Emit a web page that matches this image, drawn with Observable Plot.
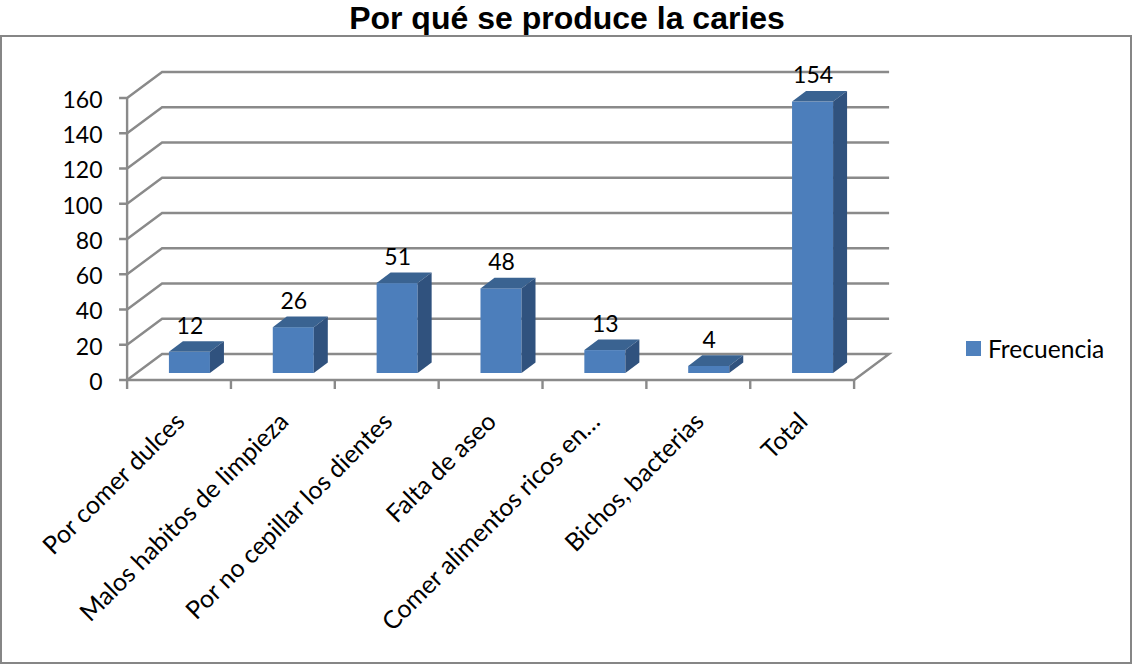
<!DOCTYPE html>
<html lang="es"><head><meta charset="utf-8">
<script src="https://cdn.jsdelivr.net/npm/d3@7"></script>
<script src="https://cdn.jsdelivr.net/npm/@observablehq/plot@0.6"></script>
<style>
html,body{margin:0;padding:0;background:#fff;width:1133px;height:664px;overflow:hidden}
#title{position:absolute;left:0;top:-1px;width:1133px;text-align:center;font:bold 32px "Liberation Sans",Arial,sans-serif;line-height:38px;color:#000;padding-left:1px;box-sizing:border-box}
#frame{position:absolute;left:0;top:35px;width:1132px;height:629px;box-sizing:border-box;border:2px solid #868686}
#chart{position:absolute;left:0;top:36px}
#legend{position:absolute;left:966px;top:334px;display:flex;align-items:center;font:24.6px Lato,sans-serif;color:#000}
#legend i{display:block;width:15px;height:15px;background:#4f81bd;margin-right:7px}
</style></head><body>
<div id="title">Por qué se produce la caries</div>
<div id="frame"></div>
<div id="chart"></div>
<div id="legend"><i></i><span>Frecuencia</span></div>
<script>
const categories = ["Por comer dulces","Malos habitos de limpieza","Por no cepillar los dientes","Falta de aseo","Comer alimentos ricos en…","Bichos, bacterias","Total"];
const frecuencia = [12,26,51,48,13,4,154];
const yTicks = [0,20,40,60,80,100,120,140,160];
const rows = categories.map((c,i)=>({c,v:frecuencia[i]}));

const wallDx=35, wallDy=-26;
const shiftX=10.5, shiftY=-7;
const depthX=14, depthY=-10.6;
const gridColor="#8a8a8a";

function walls(index,{x,y}){
  const g=d3.create("svg:g").attr("fill","none").attr("stroke",gridColor).attr("stroke-width",2.4);
  const left=x(categories[0])-x.bandwidth()*0.7635;
  const step=x(categories[1])-x(categories[0]);
  const right=left+step*categories.length;
  for(const t of yTicks){
    const p=y(t);
    const pts=t===0
      ?[[left,p],[left+wallDx,p+wallDy],[right+wallDx,p+wallDy],[right,p]]
      :[[left-8,p],[left,p],[left+wallDx,p+wallDy],[right+wallDx,p+wallDy]];
    g.append("path").attr("d",d3.line()(pts));
  }
  g.append("path").attr("d",d3.line()([[left-8,y(0)],[right,y(0)]]));
  g.append("path").attr("d",d3.line()([[left,y(160)],[left,y(0)]]));
  for(let i=0;i<=categories.length;i++){
    const tx=left+step*i;
    g.append("path").attr("d",d3.line()([[tx,y(0)],[tx,y(0)+9]]));
  }
  return g.node();
}
function faces(index,{x,y}){
  const g=d3.create("svg:g");
  const w=x.bandwidth();
  for(const r of rows){
    const l=x(r.c)+shiftX, rr=l+w, t=y(r.v)+shiftY, b=y(0)+shiftY;
    g.append("polygon").attr("fill","#3a6391")
      .attr("points",[[l,t],[l+depthX,t+depthY],[rr+depthX,t+depthY],[rr,t]].join(" "));
    g.append("polygon").attr("fill","#30527e")
      .attr("points",[[rr,t],[rr+depthX,t+depthY],[rr+depthX,b+depthY],[rr,b]].join(" "));
  }
  return g.node();
}

const plot=Plot.plot({
  width:1133,height:628,
  marginLeft:127,marginRight:279,marginTop:62,marginBottom:284,
  style:{background:"transparent",color:"#000",fontFamily:"Lato, sans-serif",overflow:"visible"},
  x:{domain:categories,paddingInner:0.605,paddingOuter:0.3025,round:false,align:0.5},
  y:{domain:[0,160],ticks:yTicks},
  marks:[
    walls,
    Plot.barY(rows,{x:"c",y:"v",fill:"#4c7ebb",dx:shiftX,dy:shiftY}),
    faces,
    Plot.axisY({ticks:yTicks,tickSize:0,tickPadding:25,label:null,fontSize:23,dy:2}),
    Plot.axisX({tickSize:0,tickRotate:-45,label:null,fontSize:25,tickPadding:8,dx:1,dy:29}),
    Plot.text(rows,{x:"c",y:"v",text:d=>String(d.v),dx:shiftX,dy:shiftY+depthY-8,lineAnchor:"bottom",textAnchor:"middle",fontSize:23,fill:"#000"})
  ]
});
document.getElementById("chart").append(plot);
</script>
</body></html>
